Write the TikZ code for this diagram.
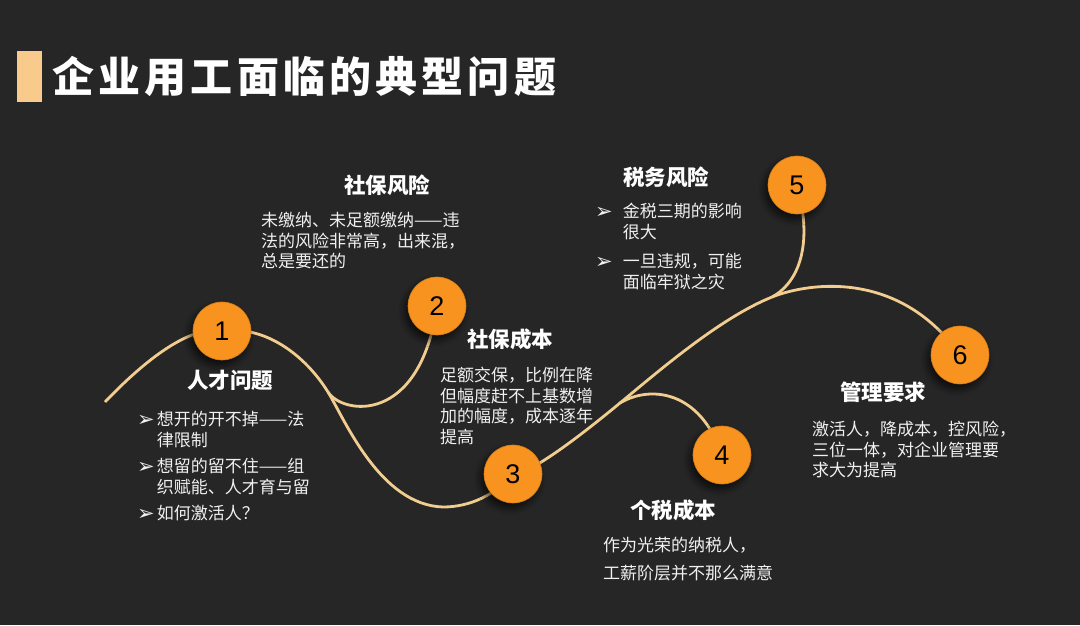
\documentclass[tikz,border=0pt]{standalone}
\usepackage{fontspec}
\setmainfont{Noto Sans CJK SC}
\newfontfamily\numfont{Liberation Sans}
\newfontfamily\symfont{DejaVu Sans}
\usetikzlibrary{shadows.blur}

\definecolor{bgdark}{HTML}{262626}
\definecolor{ballorange}{HTML}{F7931E}
\definecolor{ropetan}{HTML}{F2CD90}
\definecolor{bartan}{HTML}{F8CB8C}
\newcommand{\bul}{{\symfont\fontsize{21}{17}\selectfont\raisebox{-1pt}{➢}}}

\tikzset{
  numball/.style={circle, fill=ballorange, draw=ballorange!85!black, line width=0.6pt,
    minimum size=58pt, inner sep=0pt, text=black, font=\numfont\fontsize{27}{27}\selectfont,
    blur shadow={shadow xshift=-3pt, shadow yshift=-5pt, shadow opacity=70, shadow blur steps=8, shadow blur radius=7pt}},
  rope/.style={draw=ropetan, line width=2.8pt},
  heading/.style={text=white, inner sep=0pt, font=\bfseries\fontsize{21.5}{24}\selectfont},
  bodytxt/.style={text=white!94!black, inner sep=0pt, anchor=north west, align=left,
    font=\fontsize{17}{20.5}\selectfont}
}

\begin{document}
\begin{tikzpicture}[x=1pt,y=-1pt]
  \fill[bgdark] (0,0) rectangle (1080,625);
  \useasboundingbox (0,0) rectangle (1080,625);

  % title
  \node[fill=bartan, minimum width=25pt, minimum height=51pt, inner sep=0pt, anchor=north west] (bar) at (17,51) {};
  \node[anchor=west, text=white, inner sep=0pt, font=\bfseries\fontsize{42}{42}\selectfont\addfontfeature{LetterSpace=10}] (title) at (52,76) {企业用工面临的典型问题};

  % ball centres and forks of the rope
  \coordinate (k1) at (222,331);
  \coordinate (k2) at (437,306);
  \coordinate (k3) at (513,474);
  \coordinate (k4) at (722,455);
  \coordinate (k5) at (797,185);
  \coordinate (k6) at (960,355);
  \coordinate (s0) at (105,402);
  \coordinate (j1) at (328,392);
  \coordinate (dip) at (443,507);
  \coordinate (j3) at (620,403);
  \coordinate (j4) at (772,297);

  \draw[rope] (s0) .. controls (145,360) and (190,325) .. (k1)
              .. controls (265,325) and (305,355) .. (j1);
  \draw[rope] (j1) .. controls (343,415) and (420,425) .. (k2);
  \draw[rope] (j1) .. controls (345,420) and (380,505) .. (dip)
              .. controls (470,507) and (495,495) .. (k3);
  \draw[rope] (k3) .. controls (530,475) and (585,432) .. (j3)
              .. controls (660,370) and (720,318) .. (j4);
  \draw[rope] (j3) .. controls (650,385) and (700,390) .. (k4);
  \draw[rope] (j4) .. controls (795,285) and (815,250) .. (k5);
  \draw[rope] (j4) .. controls (810,282) and (900,270) .. (k6);

  \node[numball] (n1) at (k1) {1};
  \node[numball] (n2) at (k2) {2};
  \node[numball] (n3) at (k3) {3};
  \node[numball] (n4) at (k4) {4};
  \node[numball] (n5) at (k5) {5};
  \node[numball] (n6) at (k6) {6};

  % 1
  \node[heading] (h1) at (230,380) {人才问题};
  \node[bodytxt] (t1) at (137,411) {\begin{tabular}{@{}l@{\hspace{2pt}}l@{}}
    \bul & 想开的开不掉——法\\
         & 律限制\\[6pt]
    \bul & 想留的留不住——组\\
         & 织赋能、人才育与留\\[6pt]
    \bul & 如何激活人？
  \end{tabular}};

  % 2
  \node[heading] (h2) at (387,185) {社保风险};
  \node[bodytxt] (t2) at (261,212) {未缴纳、未足额缴纳——违\\法的风险非常高，出来混，\\总是要还的};

  % 3
  \node[heading] (h3) at (510,339) {社保成本};
  \node[bodytxt] (t3) at (440,367) {足额交保，比例在降\\但幅度赶不上基数增\\加的幅度，成本逐年\\提高};

  % 4
  \node[heading] (h4) at (673,510) {个税成本};
  \node[bodytxt, font=\fontsize{17}{28}\selectfont] (t4) at (603,537) {作为光荣的纳税人，\\工薪阶层并不那么满意};

  % 5
  \node[heading] (h5) at (666,177) {税务风险};
  \node[bodytxt] (t5) at (595,203) {\begin{tabular}{@{}l@{\hspace{10pt}}l@{}}
    \bul & 金税三期的影响\\
         & 很大\\[9pt]
    \bul & 一旦违规，可能\\
         & 面临牢狱之灾
  \end{tabular}};

  % 6
  \node[heading] (h6) at (883,392) {管理要求};
  \node[bodytxt] (t6) at (812,421) {激活人，降成本，控风险，\\三位一体，对企业管理要\\求大为提高};
\end{tikzpicture}
\end{document}
